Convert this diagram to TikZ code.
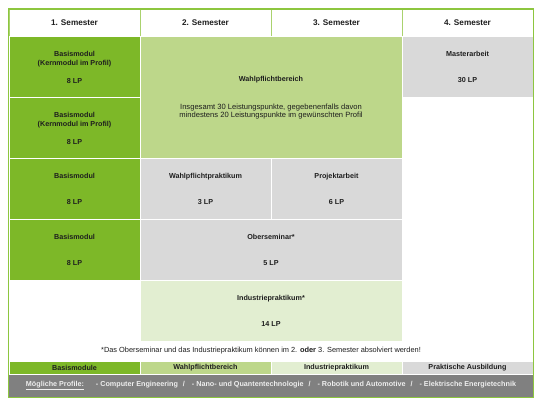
\documentclass[tikz,border=0pt]{standalone}
\usepackage{fontspec}
\setmainfont{Liberation Sans}
\definecolor{dkgreen}{RGB}{125,184,40}
\definecolor{ltgreen}{RGB}{189,215,138}
\definecolor{plgreen}{RGB}{226,238,209}
\definecolor{cgray}{RGB}{217,217,217}
\definecolor{dkgray}{RGB}{128,128,128}
\definecolor{bgreen}{RGB}{141,198,63}
\definecolor{hline}{RGB}{170,210,110}
\definecolor{txt}{RGB}{30,30,30}
\definecolor{proftxt}{RGB}{238,238,238}
\begin{document}
\begin{tikzpicture}[x=1pt,y=-1pt,
  cell/.style={rectangle, draw=white, line width=1pt, inner sep=0pt, anchor=north west,
    align=center, text=txt, font=\fontsize{7.2}{9}\selectfont\bfseries},
  hdr/.style={cell, draw=hline, fill=white, font=\fontsize{8.2}{10}\selectfont\bfseries},
  lbl/.style={inner sep=0pt, align=center, text=txt}]
\useasboundingbox (0,0) rectangle (541,405);
\fill[white] (0,0) rectangle (541,405);
% header
\node[hdr, minimum width=131pt, minimum height=27pt] (h1) at (8.5,9) {1. Semester};
\node[hdr, minimum width=131pt, minimum height=27pt] (h2) at (139.5,9) {2. Semester};
\node[hdr, minimum width=131pt, minimum height=27pt] (h3) at (270.5,9) {3. Semester};
\node[hdr, minimum width=131pt, minimum height=27pt] (h4) at (401.5,9) {4. Semester};
% column 1
\node[cell, fill=dkgreen, minimum width=131pt, minimum height=61pt] (b1) at (8.5,36) {Basismodul\\(Kernmodul im Profil)\\[9pt]8 LP};
\node[cell, fill=dkgreen, minimum width=131pt, minimum height=61pt] (b2) at (8.5,97) {Basismodul\\(Kernmodul im Profil)\\[9pt]8 LP};
\node[cell, fill=dkgreen, minimum width=131pt, minimum height=61pt] (b3) at (8.5,158) {Basismodul\\[17pt]8 LP};
\node[cell, fill=dkgreen, minimum width=131pt, minimum height=61pt] (b4) at (8.5,219) {Basismodul\\[17pt]8 LP};
% Wahlpflichtbereich
\node[cell, fill=ltgreen, minimum width=262pt, minimum height=122pt] (wb) at (139.5,36)
  {Wahlpflichtbereich\\[19pt]\mdseries\fontsize{7.6}{9}\selectfont Insgesamt 30 Leistungspunkte, gegebenenfalls davon\\[-1pt]\mdseries\fontsize{7.6}{9}\selectfont mindestens 20 Leistungspunkte im gewünschten Profil};
% Masterarbeit
\node[cell, fill=cgray, minimum width=131pt, minimum height=61pt] (ma) at (401.5,36) {Masterarbeit\\[17pt]30 LP};
% row 3
\node[cell, fill=cgray, minimum width=131pt, minimum height=61pt] (wp) at (139.5,158) {Wahlpflichtpraktikum\\[17pt]3 LP};
\node[cell, fill=cgray, minimum width=131pt, minimum height=61pt] (pa) at (270.5,158) {Projektarbeit\\[17pt]6 LP};
% row 4
\node[cell, fill=cgray, minimum width=262pt, minimum height=61pt] (os) at (139.5,219) {Oberseminar*\\[17pt]5 LP};
% row 5
\node[cell, fill=plgreen, minimum width=262pt, minimum height=61pt] (ip) at (139.5,280) {Industriepraktikum*\\[17pt]14 LP};
% footnote
\node[lbl, font=\fontsize{7.4}{9}\selectfont] (fn) at (261,351) {*Das Oberseminar und das Industriepraktikum können im 2. \textbf{oder} 3. Semester absolviert werden!};
% legend
\node[cell, fill=dkgreen, minimum width=131pt, minimum height=13.5pt] (l1) at (8.5,360.5) {Basismodule};
\node[cell, fill=ltgreen, minimum width=131pt, minimum height=13.5pt] (l2) at (139.5,360.5) {Wahlpflichtbereich};
\node[cell, fill=plgreen, minimum width=131pt, minimum height=13.5pt] (l3) at (270.5,360.5) {Industriepraktikum};
\node[cell, fill=cgray, minimum width=131pt, minimum height=13.5pt] (l4) at (401.5,360.5) {Praktische Ausbildung};
% profiles
\node[cell, draw=none, fill=dkgray, minimum width=524pt, minimum height=22.5pt, text=proftxt] (pr) at (8.5,374)
  {\underline{Mögliche Profile:}\hspace{12pt}- Computer Engineering\hspace{5pt}/\hspace{7pt}- Nano- und Quantentechnologie\hspace{5pt}/\hspace{7pt}- Robotik und Automotive\hspace{5pt}/\hspace{7pt}- Elektrische Energietechnik};
% outer frame
\draw[bgreen, line width=1.6pt] (h1.north west) rectangle (pr.south east);
\end{tikzpicture}
\end{document}
